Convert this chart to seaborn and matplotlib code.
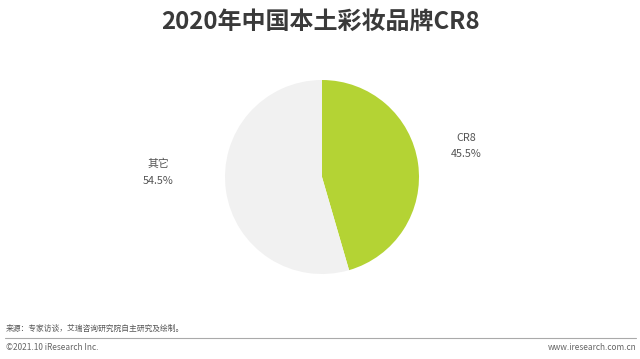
import matplotlib
matplotlib.use("Agg")
import matplotlib.pyplot as plt
import seaborn as sns

categories = ["CR8", "其它"]
values = [45.5, 54.5]
colors = ["#B4D334", "#F1F1F1"]

title = "2020年中国本土彩妆品牌CR8"
source = "来源：专家访谈，艾瑞咨询研究院自主研究及绘制。"
footer_left = "©2021.10 iResearch Inc."
footer_right = "www.iresearch.com.cn"

sns.set_theme(style="white")
plt.rcParams['font.family'] = ['Noto Sans CJK SC', 'DejaVu Sans']

fig = plt.figure(figsize=(6.4, 3.59), dpi=100)
W, H = 640, 359
cx, cy, r = 322, 177, 97
ax = fig.add_axes([(cx - r) / W, (H - cy - r) / H, 2 * r / W, 2 * r / H])
ax.pie(values, colors=sns.color_palette(colors), startangle=90, counterclock=False,
       wedgeprops=dict(linewidth=0))
ax.set_xlim(-1, 1)
ax.set_ylim(-1, 1)
ax.set_aspect("equal")
ax.axis("off")

label_pos = [(1.49, 0.32), (-1.69, 0.05)]
for (lx, ly), c, v in zip(label_pos, categories, values):
    ax.text(lx, ly, f"{c}\n{v}%", ha="center", va="center", fontsize=7.8,
            color="#555555", linespacing=1.8, clip_on=False)

fig.text(0.5, 1 - 22 / H, title, ha="center", va="center", fontsize=17.3,
         fontweight="bold", color="#3a3a3a")
fig.text(6 / W, 1 - 329 / H, source, ha="left", va="center", fontsize=5.6, color="#555555")
fig.add_artist(plt.Line2D([5 / W, 636 / W], [1 - 337.5 / H, 1 - 337.5 / H],
                          color="#aaaaaa", linewidth=0.8))
fig.text(6 / W, 1 - 347 / H, footer_left, ha="left", va="center", fontsize=6, color="#666666")
fig.text(637 / W, 1 - 347 / H, footer_right, ha="right", va="center", fontsize=6, color="#666666")

fig.savefig("out.png", dpi=100, facecolor="white")
